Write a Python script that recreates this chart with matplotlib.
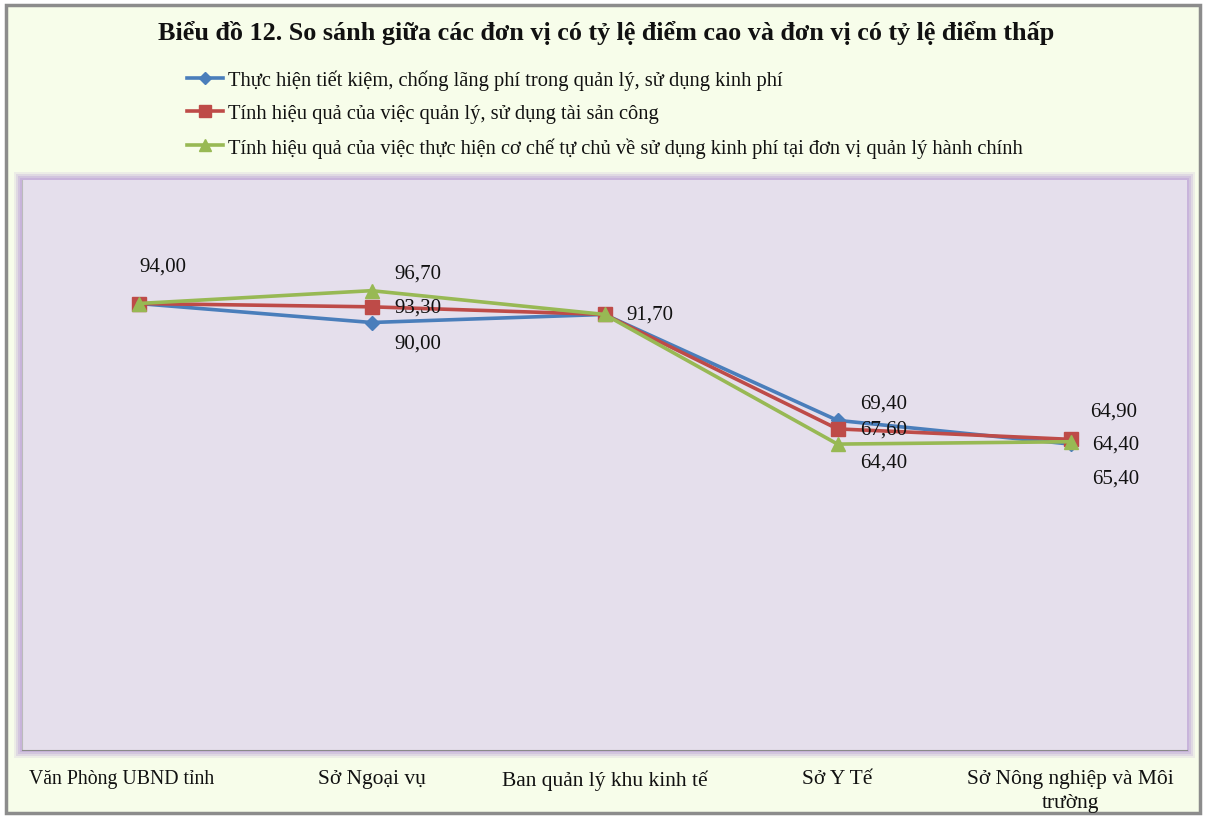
import matplotlib
matplotlib.use("Agg")
import matplotlib.pyplot as plt
import matplotlib.transforms as mtransforms
from matplotlib.patches import Rectangle
from matplotlib.lines import Line2D

categories = ["Văn Phòng UBND tỉnh", "Sở Ngoại vụ", "Ban quản lý khu kinh tế",
              "Sở Y Tế", "Sở Nông nghiệp và Môi\ntrường"]
series_names = [
    "Thực hiện tiết kiệm, chống lãng phí trong quản lý, sử dụng kinh phí",
    "Tính hiệu quả của việc quản lý, sử dụng tài sản công",
    "Tính hiệu quả của việc thực hiện cơ chế tự chủ về sử dụng kinh phí tại đơn vị quản lý hành chính",
]
s1 = [94.0, 90.0, 91.7, 69.4, 64.4]
s2 = [94.0, 93.3, 91.7, 67.6, 65.4]
s3 = [94.0, 96.7, 91.7, 64.4, 64.9]
title = "Biểu đồ 12. So sánh giữa các đơn vị có tỷ lệ điểm cao và đơn vị có tỷ lệ điểm thấp"

colors = ["#4A7EBB", "#BE4B48", "#98B954"]
markers = ["D", "s", "^"]
msizes = [7.5, 10.5, 10.5]

plt.rcParams['font.family'] = ['Liberation Serif', 'DejaVu Serif']

W, H = 1207, 820
fig = plt.figure(figsize=(W/100, H/100), dpi=100, facecolor="white")

# outer frame
fig.patches.append(Rectangle((6/W, 6/H), (1200-6)/W, (814-6)/H, transform=fig.transFigure,
                             facecolor="#F7FDEA", edgecolor="#8C8C8C", linewidth=2.5, zorder=-3))

ax_l, ax_r, ax_t, ax_b = 22, 1187, 181, 751
# glow around plot area
for i, a in enumerate([0.2, 0.3, 0.45, 0.7]):
    pad = 8 - i*2
    fig.patches.append(Rectangle(((ax_l-pad)/W, 1-(ax_b+pad)/H), (ax_r-ax_l+2*pad)/W, (ax_b-ax_t+2*pad)/H,
                                 transform=fig.transFigure, facecolor="#C4AEDA", alpha=a,
                                 edgecolor="none", zorder=-2))

ax = fig.add_axes([ax_l/W, 1-ax_b/H, (ax_r-ax_l)/W, (ax_b-ax_t)/H])
ax.set_zorder(1)
ax.set_facecolor("#E5DFEC")
for sp in ax.spines.values():
    sp.set_visible(False)
ax.spines['bottom'].set_visible(True)
ax.spines['bottom'].set_color("#8A8A8A")
ax.spines['left'].set_visible(True)
ax.spines['left'].set_color("#BBBBBB")

x = list(range(len(categories)))
data = [s1, s2, s3]
for d, c, m, ms in zip(data, colors, markers, msizes):
    ax.plot(x, d, color=c, lw=2.6, marker=m, markersize=ms, markerfacecolor=c, markeredgecolor=c)

ax.set_xlim(-0.5, len(categories)-0.5)
ax.set_ylim(0, 120)
ax.set_yticks([])
ax.set_xticks(x)
ax.set_xticklabels(categories, fontsize=15.5, color="#111111", linespacing=1.3)
ax.tick_params(axis='x', length=0, pad=14)
# first label is set tighter and sits a bit left of its category in the reference
first = ax.get_xticklabels()[0]
first.set_fontsize(14.2)
first.set_transform(first.get_transform() + mtransforms.ScaledTranslation(-0.17, 0, fig.dpi_scale_trans))

def fmt(v):
    return f"{v:.2f}".replace(".", ",")

# label offsets in pixels (dx, dy) per series per point
offsets = [
    [None, (46, -21), (45, 0), (46, 17), (45, 0)],
    [None, (46, 0), None, (46, 0), (45, -39)],
    [(24, 37), (46, 18), None, (46, -18), (43, 31)],
]
for d, offs in zip(data, offsets):
    for xi, (v, o) in enumerate(zip(d, offs)):
        if o is None:
            continue
        ax.annotate(fmt(v), (xi, v), xytext=o, textcoords="offset pixels",
                    ha="center", va="center", fontsize=15, color="#111111")

fig.text(606/W, 1-33/H, title, ha="center", va="center", fontsize=18.8, fontweight="bold", color="#111111")

handles = [Line2D([0], [0], color=c, lw=2.6, marker=m, markersize=ms*0.85, markerfacecolor=c, markeredgecolor=c)
           for c, m, ms in zip(colors, markers, msizes)]
leg = fig.legend(handles, series_names, loc="upper left", bbox_to_anchor=(177/W, 1-60/H),
                 frameon=False, fontsize=14.8, handlelength=1.75, handletextpad=0.25,
                 labelspacing=0.68, borderpad=0)
for t in leg.get_texts():
    t.set_color("#111111")

fig.savefig("out.png", dpi=100, facecolor="white")
